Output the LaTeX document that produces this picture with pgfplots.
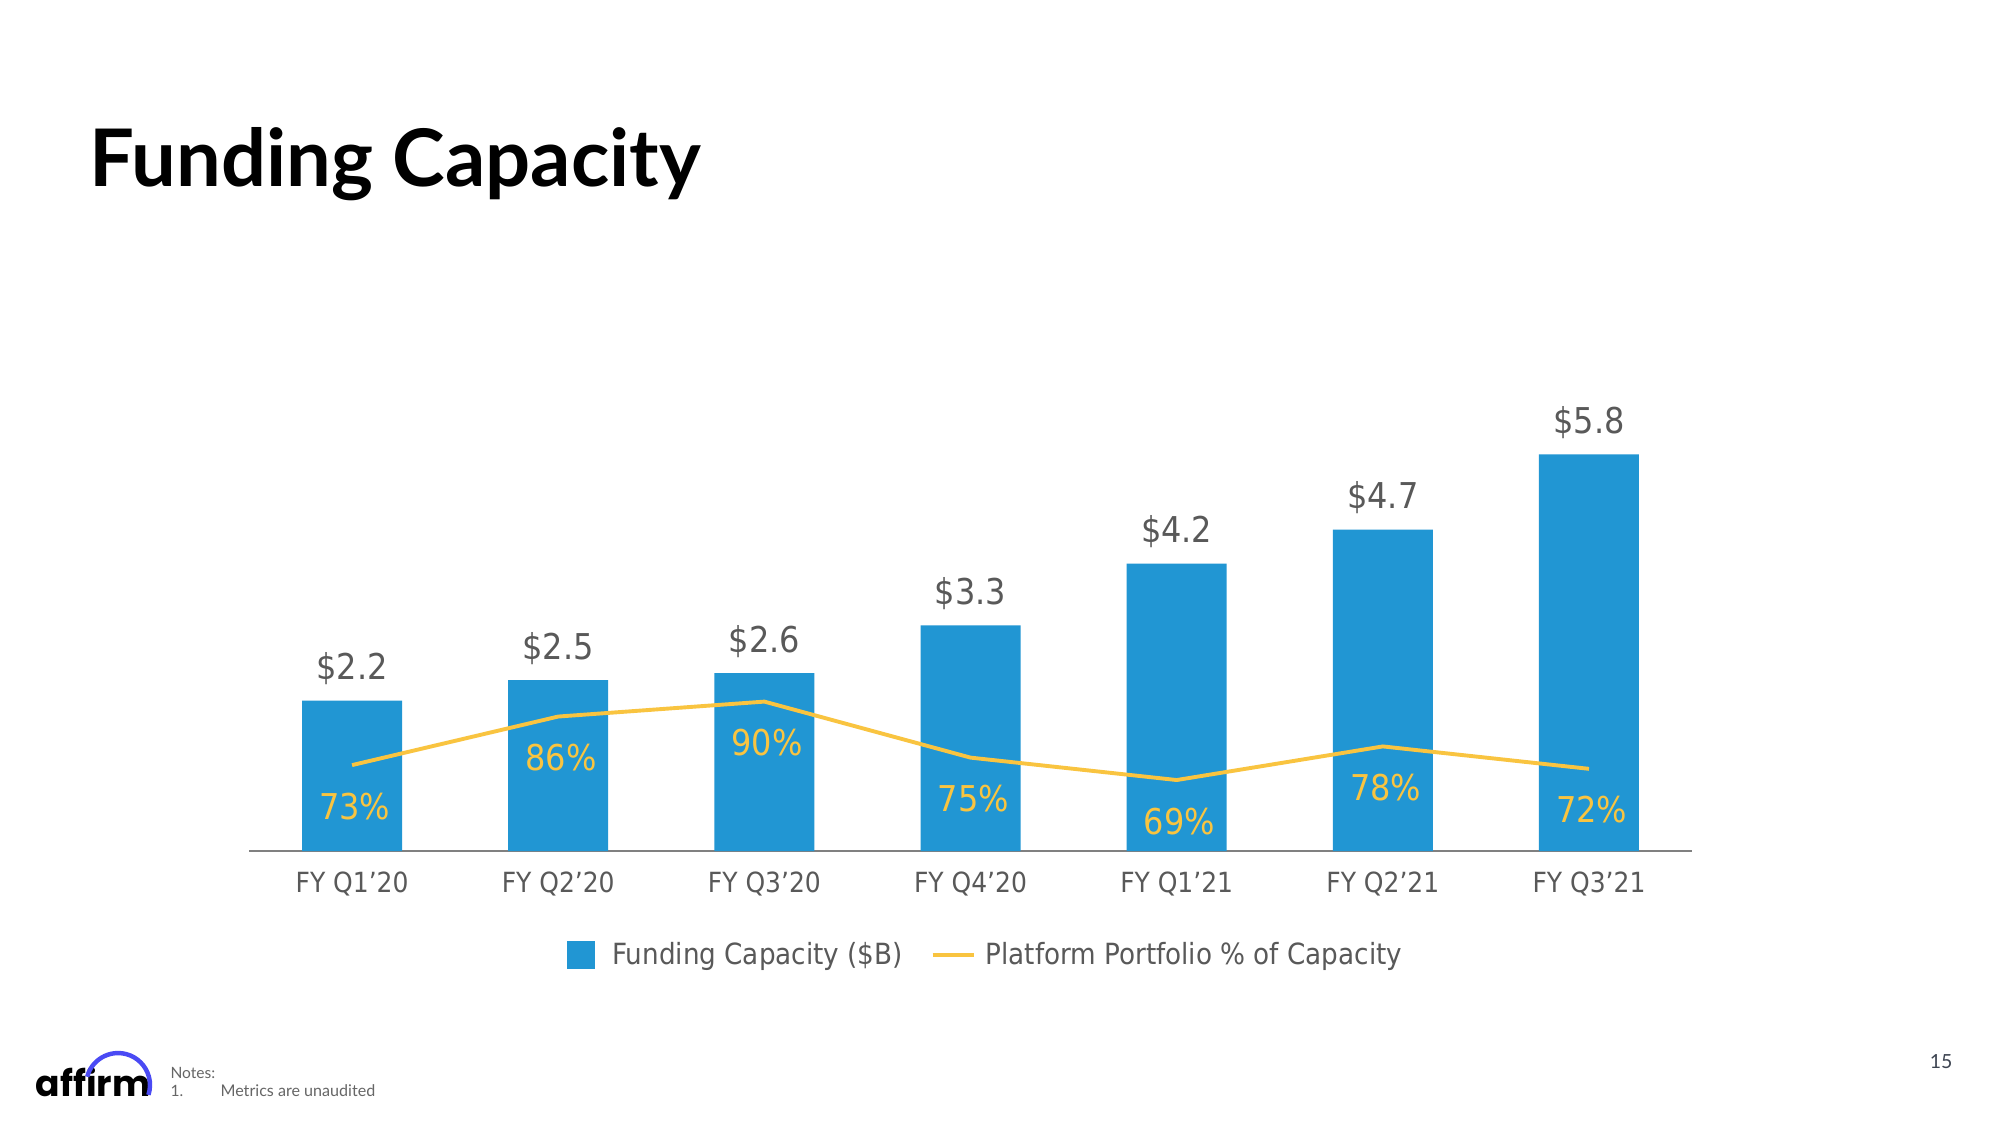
\documentclass[border=0pt]{standalone}
\usepackage{pgfplots}
\usepackage{pgfplotstable}
\pgfplotsset{compat=1.18}
\usepackage{fontspec}
\setmainfont{DejaVu Sans Condensed}
\newfontfamily\latofont{Lato}
\newfontfamily\poppinsfont{Poppins}
\definecolor{barblue}{HTML}{2196D3}
\definecolor{lineyellow}{HTML}{F9C440}
\definecolor{labelgray}{HTML}{595959}
\definecolor{axisgray}{HTML}{808080}
\definecolor{affirmblue}{HTML}{4A4AF4}
\definecolor{notegray}{HTML}{666666}
\definecolor{pagegray}{HTML}{3D4451}

\pgfplotstableread{
x cap pct
0 2.2 73
1 2.5 86
2 2.6 90
3 3.3 75
4 4.2 69
5 4.7 78
6 5.8 72
}\datatable

\begin{document}
\begin{tikzpicture}[x=1pt,y=1pt]
\useasboundingbox[fill=white] (0,0) rectangle (720,405);
\node[anchor=base west, inner sep=0, font=\latofont\bfseries\fontsize{28.6}{30}\selectfont] at (32,338) {Funding Capacity};

\begin{axis}[
  at={(89.64pt,98.64pt)}, anchor=south west,
  scale only axis, width=519.5pt, height=162.36pt,
  xmin=-0.5, xmax=6.5, ymin=0, ymax=6.594,
  ybar, bar width=36pt,
  axis y line=none,
  axis x line*=bottom,
  x axis line style={axisgray, line width=0.8pt},
  xtick={0,1,2,3,4,5,6},
  xticklabels={FY Q1’20,FY Q2’20,FY Q3’20,FY Q4’20,FY Q1’21,FY Q2’21,FY Q3’21},
  major tick length=0pt,
  xticklabel style={font=\fontsize{10}{12}\selectfont, text=labelgray, anchor=center, yshift=-11.9pt},
  /pgf/number format/assume math mode=true,
  nodes near coords={\$\pgfmathprintnumber[fixed,fixed zerofill,precision=1]{\pgfplotspointmeta}},
  nodes near coords style={font=\fontsize{12.8}{14}\selectfont, text=labelgray, anchor=center, yshift=11.4pt},
]
\addplot[fill=barblue, draw=none] table[x=x,y=cap]{\datatable};
\end{axis}

\begin{axis}[
  at={(89.64pt,98.64pt)}, anchor=south west,
  scale only axis, width=519.5pt, height=162.36pt,
  xmin=-0.5, xmax=6.5, ymin=50, ymax=170.75,
  hide axis,
  /pgf/number format/assume math mode=true,
  nodes near coords={\pgfmathprintnumber{\pgfplotspointmeta}\%},
  nodes near coords style={font=\fontsize{12.8}{14}\selectfont, text=lineyellow, anchor=center, yshift=-14.8pt, xshift=1pt},
  legend style={at={(0.5118,-0.2306)}, anchor=center, draw=none, fill=none,
    font=\fontsize{10.5}{12}\selectfont, text=labelgray, legend columns=2,
    /tikz/every odd column/.append style={column sep=1.4pt},
    /tikz/every even column/.append style={column sep=8pt}},
]
\addlegendimage{legend image code/.code={\fill[barblue] (0pt,-4.7pt) rectangle (9.4pt,4.7pt); \path[draw=none,fill=none] (0pt,0pt) rectangle (12.6pt,0.1pt);}}
\addlegendentry{Funding Capacity (\$B)}
\addplot[lineyellow, line width=1.4pt, mark=none,
  legend image code/.code={\draw[lineyellow,line width=1.4pt] (0pt,0pt) -- (15pt,0pt);}]
  table[x=x,y=pct]{\datatable};
\addlegendentry{Platform Portfolio \% of Capacity}
\end{axis}

\node[anchor=base west, inner sep=0, font=\poppinsfont\bfseries\fontsize{13}{14}\selectfont] at (12.6,10.4) {affirm};
\draw[affirmblue, line width=1.6pt] ([shift={(165:11.5pt)}]42.5,14.4) arc[start angle=165, end angle=-18, radius=11.5pt];

\node[anchor=base west, inner sep=0, font=\latofont\fontsize{5.6}{6}\selectfont, text=notegray] at (61.2,16.6) {Notes:};
\node[anchor=base west, inner sep=0, font=\latofont\fontsize{5.6}{6}\selectfont, text=notegray] at (61.2,10.1) {1.};
\node[anchor=base west, inner sep=0, font=\latofont\fontsize{5.8}{6}\selectfont, text=notegray] at (79.2,10.1) {Metrics are unaudited};
\node[anchor=center, inner sep=0, font=\latofont\fontsize{7}{8}\selectfont, text=pagegray] at (698.8,23) {15};
\end{tikzpicture}
\end{document}
